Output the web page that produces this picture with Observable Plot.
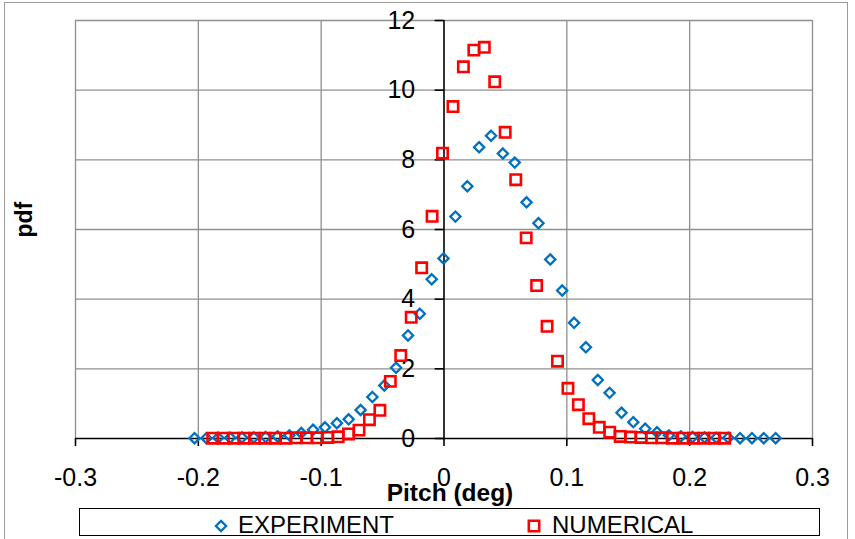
<!DOCTYPE html>
<html>
<head>
<meta charset="utf-8">
<script src="https://cdn.jsdelivr.net/npm/d3@7"></script>
<script src="https://cdn.jsdelivr.net/npm/@observablehq/plot@0.6"></script>
<style>
  html, body { margin: 0; padding: 0; background: #fff; }
  #chart { position: relative; width: 855px; height: 539px; overflow: hidden;
           font-family: "Liberation Sans", Arial, sans-serif; }
  #frame { position: absolute; left: 4px; top: 2px; width: 844px; height: 580px;
           border: 1px solid #9a9a9a; box-sizing: border-box; }
  #plot { position: absolute; left: 0; top: 0; }
  #legend { position: absolute; left: 79px; top: 508px; width: 741px; height: 28px;
            border: 1.5px solid #000; box-sizing: border-box; }
  #legend svg { position: absolute; left: -1.5px; top: -1.5px; overflow: visible; }
</style>
</head>
<body>
<div id="chart">
  <div id="frame"></div>
  <div id="plot"></div>
  <div id="legend"></div>
</div>
<script>
// Pitch bin centres (deg) and probability densities
const expX = [-0.2031, -0.1934, -0.1838, -0.1741, -0.1645, -0.1548, -0.1452, -0.1355, -0.1259, -0.1162,
              -0.1066, -0.0969, -0.0872, -0.0776, -0.0679, -0.0583, -0.0486, -0.0390, -0.0293, -0.0197,
              -0.0100, -0.0004, 0.0093, 0.0190, 0.0286, 0.0383, 0.0479, 0.0576, 0.0672, 0.0769,
              0.0865, 0.0962, 0.1059, 0.1155, 0.1252, 0.1348, 0.1445, 0.1541, 0.1638, 0.1734,
              0.1831, 0.1928, 0.2024, 0.2121, 0.2217, 0.2314, 0.2410, 0.2507, 0.2603, 0.2700];
const expPdf = [0.01, 0.01, 0.02, 0.02, 0.03, 0.03, 0.04, 0.06, 0.09, 0.16,
                0.25, 0.32, 0.44, 0.55, 0.82, 1.19, 1.52, 2.03, 2.96, 3.58,
                4.57, 5.17, 6.37, 7.24, 8.36, 8.69, 8.18, 7.92, 6.78, 6.18,
                5.14, 4.25, 3.32, 2.62, 1.68, 1.31, 0.74, 0.47, 0.28, 0.18,
                0.09, 0.06, 0.04, 0.03, 0.02, 0.02, 0.01, 0.01, 0.01, 0.01];

const numX = [-0.1883, -0.1798, -0.1713, -0.1628, -0.1543, -0.1458, -0.1373, -0.1288, -0.1203, -0.1118,
              -0.1032, -0.0947, -0.0862, -0.0777, -0.0692, -0.0607, -0.0522, -0.0437, -0.0352, -0.0267,
              -0.0182, -0.0097, -0.0012, 0.0073, 0.0158, 0.0243, 0.0328, 0.0413, 0.0498, 0.0584,
              0.0669, 0.0754, 0.0839, 0.0924, 0.1009, 0.1094, 0.1179, 0.1264, 0.1349, 0.1434,
              0.1519, 0.1604, 0.1689, 0.1774, 0.1859, 0.1945, 0.2030, 0.2115, 0.2200, 0.2285];
const numPdf = [0.01, 0.01, 0.01, 0.01, 0.01, 0.01, 0.01, 0.01, 0.02, 0.02,
                0.02, 0.03, 0.05, 0.13, 0.24, 0.54, 0.81, 1.64, 2.38, 3.48,
                4.90, 6.38, 8.19, 9.53, 10.67, 11.15, 11.23, 10.24, 8.79, 7.43,
                5.76, 4.39, 3.22, 2.22, 1.44, 0.97, 0.57, 0.32, 0.18, 0.06,
                0.04, 0.03, 0.02, 0.02, 0.01, 0.01, 0.01, 0.01, 0.01, 0.01];

const xTicks = [-0.3, -0.2, -0.1, 0, 0.1, 0.2, 0.3];
const yTicks = [0, 2, 4, 6, 8, 10, 12];
const seriesNames = ["EXPERIMENT", "NUMERICAL"];
const seriesColors = ["#0070C0", "#FF0000"];

const experiment = expX.map((x, i) => ({x, pdf: expPdf[i]}));
const numerical = numX.map((x, i) => ({x, pdf: numPdf[i]}));

const fontFamily = '"Liberation Sans", Arial, sans-serif';
const gridColor = "#8f8f8f";

const plot = Plot.plot({
  width: 855,
  height: 505,
  marginLeft: 75,
  marginRight: 43,
  marginTop: 20,
  marginBottom: 67,
  x: {domain: [-0.3, 0.3]},
  y: {domain: [0, 12]},
  style: {fontFamily, fontSize: "25px", color: "#000", background: "transparent", overflow: "visible"},
  marks: [
    // gridlines (outer ones double as the plot-area border)
    Plot.ruleX(xTicks.filter(d => d !== 0), {stroke: gridColor, strokeWidth: 1.3}),
    Plot.ruleY(yTicks.filter(d => d !== 0), {stroke: gridColor, strokeWidth: 1.3}),
    // axes crossing at the origin
    Plot.ruleY([0], {stroke: "#000", strokeWidth: 1.6}),
    Plot.ruleX([0], {stroke: "#000", strokeWidth: 1.6}),
    Plot.axisX(xTicks, {tickSize: 8, tickPadding: 22, label: null, strokeWidth: 1.6,
                        tickFormat: d => String(d)}),
    Plot.axisY(yTicks, {anchor: "left", tickSize: 9, tickPadding: 20, dx: 368.7, label: null,
                        strokeWidth: 1.6, tickFormat: d => String(d)}),
    // data series
    Plot.dot(experiment, {x: "x", y: "pdf", symbol: "diamond2", r: 4.6,
                          stroke: seriesColors[0], strokeWidth: 2.3, fill: "none"}),
    Plot.dot(numerical, {x: "x", y: "pdf", symbol: "square2", r: 6.6,
                         stroke: seriesColors[1], strokeWidth: 2.6, fill: "none"}),
    // axis titles
    Plot.text(["Pitch (deg)"], {frameAnchor: "bottom", lineAnchor: "bottom", dy: 62, dx: 6,
                                fontWeight: "bold", fontSize: 24.5, fill: "#000"}),
    Plot.text(["pdf"], {frameAnchor: "left", rotate: -90, dx: -51, dy: 8,
                        fontWeight: "bold", fontSize: 23, fill: "#000"})
  ]
});
document.getElementById("plot").appendChild(plot);

// legend row below the chart
const legend = d3.select("#legend").append("svg").attr("width", 741).attr("height", 28);
const legendItems = [
  {name: seriesNames[0], color: seriesColors[0], symbol: d3.symbolDiamond2, size: 66, mx: 142, tx: 159},
  {name: seriesNames[1], color: seriesColors[1], symbol: d3.symbolSquare2, size: 137, mx: 455, tx: 473}
];
for (const item of legendItems) {
  legend.append("path")
    .attr("d", d3.symbol(item.symbol, item.size)())
    .attr("transform", `translate(${item.mx},18)`)
    .attr("fill", "none")
    .attr("stroke", item.color)
    .attr("stroke-width", item.symbol === d3.symbolSquare2 ? 2.6 : 2.3);
  legend.append("text")
    .attr("x", item.tx)
    .attr("y", 25)
    .attr("font-family", fontFamily)
    .attr("font-size", 24)
    .attr("fill", "#000")
    .text(item.name);
}
</script>
</body>
</html>
